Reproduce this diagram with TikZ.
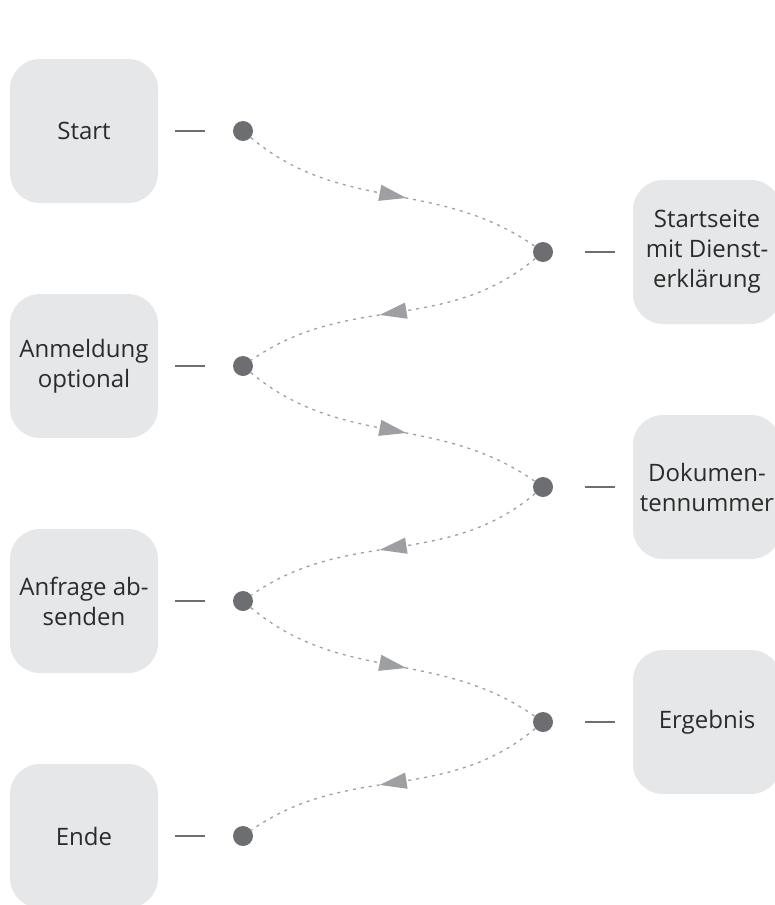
\documentclass[tikz,border=0pt]{standalone}
\usepackage{fontspec}
\setmainfont{Open Sans}
\usetikzlibrary{arrows.meta,decorations.markings}
\definecolor{boxgray}{HTML}{E6E7E8}
\definecolor{dotgray}{HTML}{6D6E71}
\definecolor{flowgray}{HTML}{9D9FA2}
\definecolor{textgray}{HTML}{2B2B2B}
\begin{document}
\begin{tikzpicture}[x=1pt,y=1pt,font=\fontsize{24}{30}\selectfont,line join=round,>=Stealth]
	\tikzset{stepbox/.style={fill=boxgray,rounded corners=30pt,minimum width=148pt,minimum height=144pt,inner sep=0pt,align=center,text=textgray},
		dot/.style={circle,fill=dotgray,minimum size=20pt,inner sep=0pt},
		link/.style args={#1/#2}{draw=dotgray,line width=2pt,shorten <=#1,shorten >=#2},
		flow/.style={draw=flowgray,line width=1.3pt,dash pattern=on 3pt off 5pt,postaction={decorate},
			decoration={markings,mark=at position 0.55 with {\arrow[flowgray,solid]{Triangle[length=27pt,width=16pt]}}}}}
	\useasboundingbox (0,0) rectangle (775,-905);
	\begin{scope}
		\clip (0,0) rectangle (775,-905);
		\node[stepbox] (start) at (84,-131) {Start};
		\node[stepbox] (login) at (84,-366) {Anmeldung\\optional};
		\node[stepbox] (request) at (84,-601) {Anfrage ab-\\senden};
		\node[stepbox] (finish) at (84,-836) {Ende};
		\node[stepbox] (home) at (707,-252) {Startseite\\mit Dienst-\\erklärung};
		\node[stepbox] (docno) at (707,-487) {Dokumen-\\tennummer};
		\node[stepbox] (result) at (707,-722) {Ergebnis};
	\end{scope}
	\foreach \n/\y in {l1/131,l2/366,l3/601,l4/836}
	\node[dot] (\n) at (243,-\y) {};
	\foreach \n/\y in {r1/252,r2/487,r3/722}
	\node[dot] (\n) at (543,-\y) {};
	\foreach \a/\b in {start/l1,login/l2,request/l3,finish/l4}
	\draw[link=17pt/28pt] (\a) -- (\b);
	\foreach \a/\b in {r1/home,r2/docno,r3/result}
	\draw[link=32pt/18pt] (\a) -- (\b);
	\foreach \a/\b in {l1/r1,l2/r2,l3/r3}
	\draw[flow] (\a) to[out=-40,in=145] (\b);
	\foreach \a/\b in {r1/l2,r2/l3,r3/l4}
	\draw[flow] (\a) to[out=-140,in=35] (\b);
\end{tikzpicture}
\end{document}
